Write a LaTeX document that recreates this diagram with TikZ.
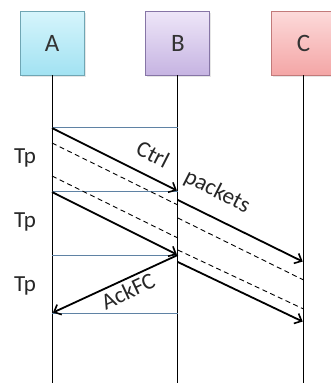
\documentclass[tikz,border=0pt]{standalone}
\usepackage{fontspec}
\setmainfont{Carlito}
\usetikzlibrary{positioning, arrows.meta, shadows}
\definecolor{aTop}{HTML}{D6F5FC}
\definecolor{aBot}{HTML}{A2E2F2}
\definecolor{aLine}{HTML}{6FA6B4}
\definecolor{bTop}{HTML}{EEE6F8}
\definecolor{bBot}{HTML}{C6B4E2}
\definecolor{bLine}{HTML}{8675A6}
\definecolor{cTop}{HTML}{FCDADA}
\definecolor{cBot}{HTML}{F4A6A6}
\definecolor{cLine}{HTML}{C27A7A}
\definecolor{winBlue}{HTML}{5F82A4}

\begin{document}
\begin{tikzpicture}[
        x=1pt, y=-1pt,
        node distance=61pt,
        >={Straight Barb[length=6pt, width=11pt, line width=1.6pt]},
        entity/.style={rectangle, thick, minimum width=64pt, minimum height=64pt,
            font=\fontsize{25}{30}\selectfont, text=black!80,
            drop shadow={opacity=0.2, shadow xshift=1.5pt, shadow yshift=-1.5pt}},
        entA/.style={entity, draw=aLine, top color=aTop, bottom color=aBot},
        entB/.style={entity, draw=bLine, top color=bTop, bottom color=bBot},
        entC/.style={entity, draw=cLine, top color=cTop, bottom color=cBot},
        lifeline/.style={draw, line width=1pt},
        msg/.style={draw, ->, line width=1.8pt, shorten >=1pt},
        window/.style={draw=winBlue, line width=0.9pt},
        gap/.style={draw, line width=0.9pt, dash pattern=on 5pt off 3.5pt},
        lbl/.style={font=\fontsize{23}{27}\selectfont, text=black!85, inner sep=1pt},
    ]
    \useasboundingbox (0,0) rectangle (330,383);

    % entities
    \node [entA] at (52,43) (A) {A};
    \node [entB, right=of A] (B) {B};
    \node [entC, right=of B] (C) {C};

    % lifelines
    \coordinate (Aend) at (A.south |- 0,383);
    \coordinate (Bend) at (B.south |- 0,383);
    \coordinate (Cend) at (C.south |- 0,383);
    \draw[lifeline] (A.south) -- (Aend);
    \draw[lifeline] (B.south) -- (Bend);
    \draw[lifeline] (C.south) -- (Cend);

    % points on the lifelines
    \coordinate (a1) at (A.south |- 0,127);
    \coordinate (a2) at (A.south |- 0,191);
    \coordinate (a3) at (A.south |- 0,255);
    \coordinate (a4) at (A.south |- 0,313);
    \coordinate (b1) at (B.south |- 0,127);
    \coordinate (b2) at (B.south |- 0,191);
    \coordinate (b3) at (B.south |- 0,255);
    \coordinate (b4) at (B.south |- 0,313);
    \coordinate (c1) at (C.south |- 0,262);
    \coordinate (c2) at (C.south |- 0,322);

    % Tp windows
    \draw[window] (a1) -- (b1);
    \draw[window] (a2) -- (b2);
    \draw[window] (a3) -- (b3);
    \draw[window] (a4) -- (b4);

    % dashed packets
    \draw[gap] (A.south |- 0,143) -- (B.south |- 0,205);
    \draw[gap] (A.south |- 0,176) -- (B.south |- 0,238);
    \draw[gap] (B.south |- 0,218) -- (C.south |- 0,280);
    \draw[gap] (B.south |- 0,250) -- (C.south |- 0,309);

    % Ctrl packets
    \draw[msg] (A.south |- 0,128) -- (b2);
    \draw[msg] (A.south |- 0,192) -- (b3);
    \draw[msg] (B.south |- 0,200) -- (c1);
    \draw[msg] (B.south |- 0,262) -- (c2);

    % AckFC
    \draw[msg] (b3) -- (a4);

    % labels
    \node [lbl] at (25,158) (tp1) {Tp};
    \node [lbl] at (25,222) (tp2) {Tp};
    \node [lbl] at (25,286) (tp3) {Tp};
    \node [lbl, rotate=-27] at (153,154) (ctrl) {Ctrl};
    \node [lbl, rotate=-27] at (217,192) (packets) {packets};
    \node [lbl, rotate=25] at (128,291) (ack) {AckFC};

\end{tikzpicture}
\end{document}
